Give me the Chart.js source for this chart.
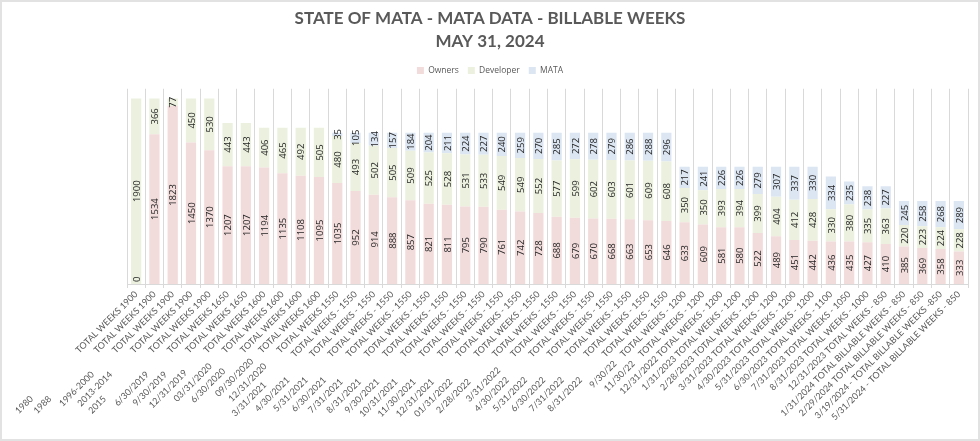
<!DOCTYPE html>
<html>
<head>
<meta charset="utf-8">
<script src="https://cdn.jsdelivr.net/npm/chart.js@4.4.1/dist/chart.umd.min.js"></script>
<style>
    html, body { margin: 0; padding: 0; background: #fff; }
    #wrap { width: 980px; height: 441px; box-sizing: border-box; border: 2px solid #e2e2e2; }
    canvas { display: block; }
</style>
</head>
<body>
<div id="wrap"><canvas id="mataChart" width="976" height="437"></canvas></div>
<script>
// tick labels, as in the sheet (the spacing is part of the label text)
const labels = [
    '1980                            TOTAL WEEKS 1900',
    '1988                            TOTAL WEEKS 1900',
    '1996-2000             TOTAL WEEKS 1900',
    '2013-2014             TOTAL WEEKS 1900',
    '2015                            TOTAL WEEKS 1900',
    '6/30/2019             TOTAL WEEKS 1650',
    '9/30/2019             TOTAL WEEKS 1650',
    '12/31/2019            TOTAL WEEKS 1600',
    '03/31/2020        TOTAL WEEKS 1600',
    '6/30/2020           TOTAL WEEKS 1600',
    '09/30/2020     TOTAL WEEKS 1600',
    '12/31/2020        TOTAL WEEKS 1550',
    '3/31/2021                 TOTAL WEEKS - 1550',
    '4/30/2021              TOTAL WEEKS - 1550',
    '5/31/2021              TOTAL WEEKS - 1550',
    '6/30/2021              TOTAL WEEKS - 1550',
    '7/31/2021               TOTAL WEEKS - 1550',
    '8/31/2021               TOTAL WEEKS - 1550',
    '9/30/2021               TOTAL WEEKS - 1550',
    '10/31/2021               TOTAL WEEKS - 1550',
    '11/30/2021               TOTAL WEEKS - 1550',
    '12/31/2021               TOTAL WEEKS - 1550',
    '01/31/2022               TOTAL WEEKS - 1550',
    '2/28/2022               TOTAL WEEKS - 1550',
    '3/31/2022        TOTAL WEEKS - 1550',
    '4/30/2022              TOTAL WEEKS - 1550',
    '5/31/2022              TOTAL WEEKS - 1550',
    '6/30/2022              TOTAL WEEKS - 1550',
    '7/31/2022              TOTAL WEEKS - 1550',
    '8/31/2022              TOTAL WEEKS - 1550',
    '9/30/22    TOTAL WEEKS - 1200',
    '11/30/22    TOTAL WEEKS - 1200',
    '12/31/2022 TOTAL WEEKS - 1200',
    '1/31/2023 TOTAL WEEKS - 1200',
    '2/28/2023 TOTAL WEEKS - 1200',
    '3/31/2023 TOTAL WEEKS - 1200',
    '4/30/2023 TOTAL WEEKS - 1200',
    '5/31/2023 TOTAL WEEKS - 1200',
    '6/30/2023 TOTAL WEEKS - 1100',
    '7/31/2023 TOTAL WEEKS - 1050',
    '8/31/2023 TOTAL WEEKS - 1000',
    '12/31/2023 TOTAL WEEKS - 850',
    '1/31/2024 TOTAL BILLABLE WEEKS - 850',
    '2/29/2024 TOTAL BILLABLE WEEKS - 850',
    '3/19/2024 - TOTAL BILLABLE WEEKS -850',
    '5/31/2024 - TOTAL BILLABLE WEEKS - 850'
];

const owners = [0, 1534, 1823, 1450, 1370, 1207, 1207, 1194, 1135, 1108, 1095, 1035,
    952, 914, 888, 857, 821, 811, 795, 790, 761, 742, 728, 688, 679, 670, 668, 663, 653, 646,
    633, 609, 581, 580, 522, 489, 451, 442, 436, 435, 427, 410, 385, 369, 358, 333];

const developer = [1900, 366, 77, 450, 530, 443, 443, 406, 465, 492, 505, 480,
    493, 502, 505, 509, 525, 528, 531, 533, 549, 549, 552, 577, 599, 602, 603, 601, 609, 608,
    350, 350, 393, 394, 399, 404, 412, 428, 330, 380, 335, 363, 220, 223, 224, 228];

const mata = [null, null, null, null, null, null, null, null, null, null, null, 35,
    105, 134, 157, 184, 204, 211, 224, 227, 240, 259, 270, 285, 272, 278, 279, 286, 288, 296,
    217, 241, 226, 226, 279, 307, 337, 330, 334, 235, 238, 227, 245, 258, 268, 289];

// numbers written up the middle of every segment
const barValues = {
    id: 'barValues',
    afterDatasetsDraw(chart) {
        const ctx = chart.ctx;
        ctx.save();
        ctx.font = '9.5px "Open Sans"';
        ctx.fillStyle = '#262626';
        ctx.textBaseline = 'middle';
        chart.data.datasets.forEach((ds, i) => {
            chart.getDatasetMeta(i).data.forEach((bar, j) => {
                const v = ds.data[j];
                if (v === null || v === undefined) return;
                ctx.save();
                if (v === 0) {
                    ctx.translate(bar.x, bar.base - 2);
                    ctx.textAlign = 'left';
                } else {
                    ctx.translate(bar.x, (bar.y + bar.base) / 2);
                    ctx.textAlign = 'center';
                }
                ctx.rotate(-Math.PI / 2);
                ctx.fillText(v, 0, 1);
                ctx.restore();
            });
        });
        ctx.restore();
    }
};

// a little more air under the legend before the plot starts
const legendGap = {
    id: 'legendGap',
    beforeInit(chart) {
        const fit = chart.legend.fit;
        chart.legend.fit = function () {
            fit.call(this);
            this.height += 4;
        };
    }
};

const ctx = document.getElementById('mataChart').getContext('2d');
new Chart(ctx, {
    type: 'bar',
    data: {
        labels: labels,
        datasets: [{
            label: 'Owners',
            data: owners,
            backgroundColor: '#f2dcdb',
            borderWidth: 0,
            barPercentage: 0.56,
            categoryPercentage: 1.0
        }, {
            label: 'Developer',
            data: developer,
            backgroundColor: '#ebf1de',
            borderWidth: 0,
            barPercentage: 0.56,
            categoryPercentage: 1.0
        }, {
            label: 'MATA',
            data: mata,
            backgroundColor: '#dce6f2',
            borderWidth: 0,
            barPercentage: 0.56,
            categoryPercentage: 1.0
        }]
    },
    options: {
        responsive: false,
        animation: false,
        plugins: {
            title: {
                display: true,
                text: ['STATE OF MATA - MATA DATA - BILLABLE WEEKS', 'MAY 31, 2024'],
                color: '#595959',
                font: { family: 'Lato', size: 17, weight: 'bold', lineHeight: 1.36 },
                padding: { top: 5, bottom: 4 }
            },
            legend: {
                position: 'top',
                labels: {
                    color: '#595959',
                    font: { family: 'Open Sans', size: 8.5 },
                    boxWidth: 7,
                    boxHeight: 7,
                    padding: 9
                }
            },
            tooltip: { enabled: false }
        },
        scales: {
            x: {
                stacked: true,
                grid: {
                    color: '#d9d9d9',
                    tickLength: 4,
                    offset: true
                },
                border: { color: '#d9d9d9' },
                ticks: {
                    autoSkip: false,
                    maxRotation: 45,
                    minRotation: 45,
                    padding: 1,
                    color: '#595959',
                    font: { family: 'Lato', size: 9 }
                },
                // the long slanted labels hang below and to the left; keep the plot where it sits in the sheet
                afterFit(scale) {
                    scale.height = 155;
                    scale.paddingLeft = 125;
                    scale.paddingRight = 10;
                }
            },
            y: {
                stacked: true,
                display: false,
                min: 0,
                max: 2000
            }
        }
    },
    plugins: [barValues, legendGap]
});
</script>
</body>
</html>
